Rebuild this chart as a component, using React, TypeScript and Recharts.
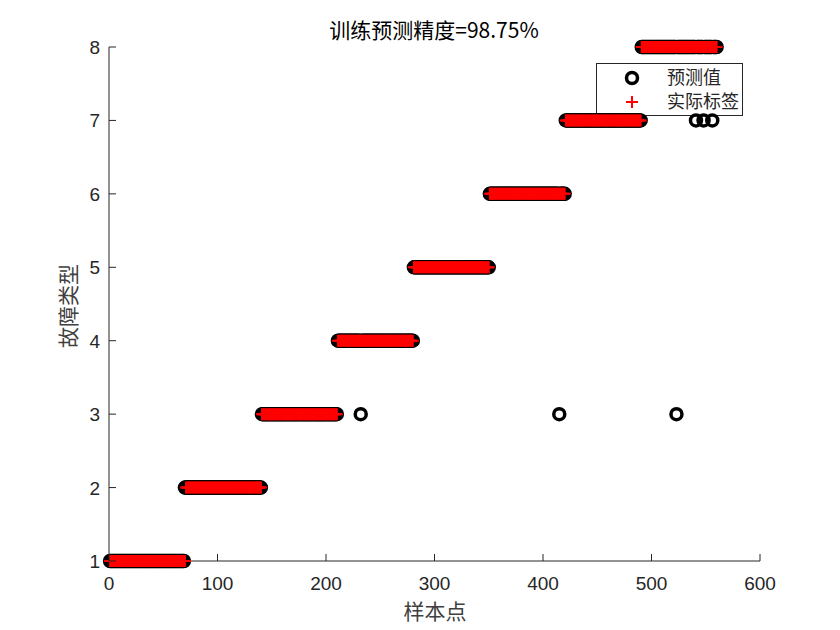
import React from "react";
import { ScatterChart, Scatter, XAxis, YAxis, Customized } from "recharts";

// ---- data ----
const classLabels = [1, 2, 3, 4, 5, 6, 7, 8];
const samplesPerClass = [70, 70, 70, 70, 70, 70, 70, 70];
const errorSamples = [70, 232, 415, 523, 541, 548, 556];
const errorPredictions = [2, 3, 3, 3, 7, 7, 7];
const xTicks = [0, 100, 200, 300, 400, 500, 600];
const yTicks = [1, 2, 3, 4, 5, 6, 7, 8];
const titleText = "训练预测精度=98.75%";
const xLabelText = "样本点";
const yLabelText = "故障类型";
const legendNames = ["预测值", "实际标签"];

// build tables from the arrays
const actualData: { x: number; y: number }[] = [];
{
  let idx = 1;
  classLabels.forEach((c, i) => {
    for (let k = 0; k < samplesPerClass[i]; k++) {
      actualData.push({ x: idx, y: c });
      idx++;
    }
  });
}
const predictedData = actualData.map((d) => {
  const e = errorSamples.indexOf(d.x);
  return e >= 0 ? { x: d.x, y: errorPredictions[e] } : { x: d.x, y: d.y };
});

const AX = "#262626";
const TICK_FONT = "'Liberation Sans', Arial, sans-serif";
const CJK_FONT = "'Noto Sans CJK SC', sans-serif";

const CircleShape = (props: any) => {
  const { cx, cy } = props;
  if (cx == null || cy == null) return null;
  return <circle cx={cx} cy={cy} r={5.5} fill="none" stroke="#000" strokeWidth={3.5} />;
};

const PlusShape = (props: any) => {
  const { cx, cy } = props;
  if (cx == null || cy == null) return null;
  return (
    <path
      d={`M${cx - 6},${cy}h12M${cx},${cy - 6}v12`}
      stroke="#ff0000"
      strokeWidth={2}
      fill="none"
    />
  );
};

const XTick = (props: any) => {
  const { x, payload } = props;
  return (
    <g>
      <line x1={x} y1={561} x2={x} y2={554} stroke={AX} strokeWidth={1} />
      <text x={x} y={590} textAnchor="middle" fontSize={19} fill={AX} fontFamily={TICK_FONT}>
        {payload.value}
      </text>
    </g>
  );
};

const YTick = (props: any) => {
  const { y, payload } = props;
  return (
    <g>
      <line x1={109} y1={y} x2={116} y2={y} stroke={AX} strokeWidth={1} />
      <text x={100} y={y + 7} textAnchor="end" fontSize={19} fill={AX} fontFamily={TICK_FONT}>
        {payload.value}
      </text>
    </g>
  );
};

const Overlay = () => (
  <g>
    <text x={434} y={38} textAnchor="middle" fontSize={21} fill="#000" fontFamily={CJK_FONT}>
      {titleText}
    </text>
    <text x={435} y={619} textAnchor="middle" fontSize={21} fill="#404040" fontFamily={CJK_FONT}>
      {xLabelText}
    </text>
    <text
      x={0}
      y={0}
      transform="translate(76,306) rotate(-90)"
      textAnchor="middle"
      fontSize={21}
      fill="#404040"
      fontFamily={CJK_FONT}
    >
      {yLabelText}
    </text>
    {/* legend */}
    <rect x={596.5} y={63.5} width={146} height={52} fill="#fff" stroke={AX} strokeWidth={1} />
    <circle cx={632} cy={78} r={5.5} fill="none" stroke="#000" strokeWidth={3.5} />
    <path d={`M626,102h12M632,96v12`} stroke="#ff0000" strokeWidth={2} fill="none" />
    <text x={667} y={84} fontSize={18} fill={AX} fontFamily={CJK_FONT}>
      {legendNames[0]}
    </text>
    <text x={667} y={108} fontSize={18} fill={AX} fontFamily={CJK_FONT}>
      {legendNames[1]}
    </text>
  </g>
);

export default function App() {
  return (
    <div style={{ position: "absolute", left: 0, top: 0, width: 840, height: 630, background: "#fff" }}>
      <ScatterChart
        width={840}
        height={630}
        margin={{ top: 47, left: 108, right: 80, bottom: 68 }}
      >
        <XAxis
          dataKey="x"
          type="number"
          domain={[0, 600]}
          ticks={xTicks}
          height={1}
          tickSize={0}
          tickMargin={0}
          tickLine={false}
          axisLine={{ stroke: AX, strokeWidth: 1 }}
          tick={<XTick />}
          interval={0}
        />
        <YAxis
          dataKey="y"
          type="number"
          domain={[1, 8]}
          ticks={yTicks}
          width={1}
          tickSize={0}
          tickMargin={0}
          tickLine={false}
          axisLine={{ stroke: AX, strokeWidth: 1 }}
          tick={<YTick />}
          interval={0}
        />
        <Scatter data={predictedData} shape={CircleShape} isAnimationActive={false} />
        <Scatter data={actualData} shape={PlusShape} isAnimationActive={false} />
        <Customized component={Overlay} />
      </ScatterChart>
    </div>
  );
}
